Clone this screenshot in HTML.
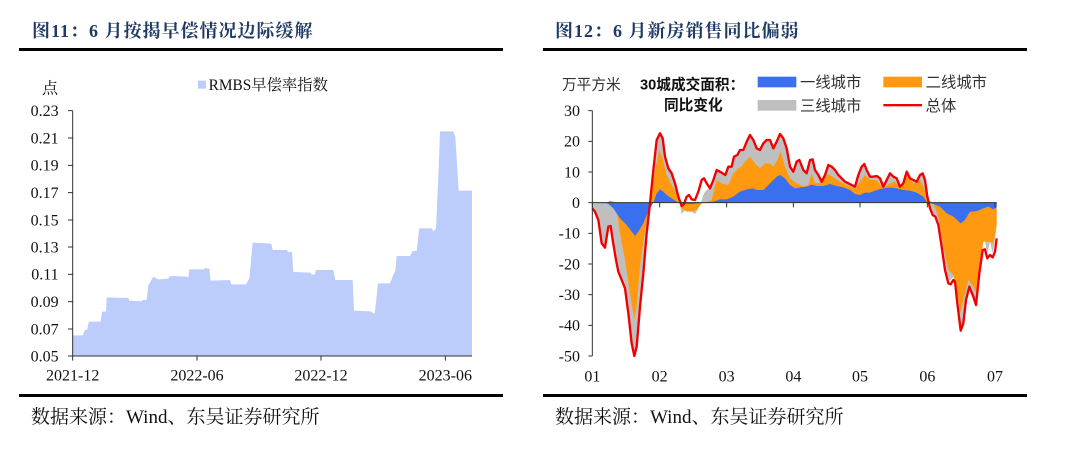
<!DOCTYPE html>
<html><head><meta charset="utf-8"><style>
body{margin:0;width:1080px;height:449px;background:#fff;position:relative;overflow:hidden;font-family:"Liberation Serif","Noto Serif CJK SC",serif}
.t{position:absolute;top:17px;font-size:18px;font-weight:bold;color:#1f3a64;letter-spacing:1px}
.ln{position:absolute;height:3px;background:#000}
.src{position:absolute;top:402px;font-size:19px;color:#111}
svg{position:absolute;top:60px}
</style></head><body>
<div class="t" style="left:32px">图11：6 月按揭早偿情况边际缓解</div>
<div class="t" style="left:555px">图12：6 月新房销售同比偏弱</div>
<div class="ln" style="left:19px;width:484px;top:48px"></div>
<div class="ln" style="left:543px;width:484px;top:48px"></div>
<div class="ln" style="left:19px;width:484px;top:394px"></div>
<div class="ln" style="left:543px;width:484px;top:394px"></div>
<div class="src" style="left:31px">数据来源：Wind、东吴证券研究所</div>
<div class="src" style="left:555px">数据来源：Wind、东吴证券研究所</div>

<svg width="540" height="330" viewBox="0 0 1620 990" style="left:0" font-family="Liberation Serif, Noto Serif CJK SC, serif">
<path fill="#bccdfb" d="M218,888 L218,826 L248,826 L255,810 L262,808 L266,785 L302,785 L306,755 L318,755 L320,712 L380,714 L384,712 L388,722 L425,724 L428,720 L440,720 L445,676 L460,650 L470,656 L475,658 L505,656 L510,648 L560,650 L565,653 L568,628 L612,628 L616,624 L628,626 L632,662 L690,660 L694,673 L738,673 L748,655 L758,548 L808,550 L814,552 L818,570 L860,570 L865,576 L876,576 L880,636 L930,638 L936,644 L944,644 L948,630 L1000,630 L1006,660 L1058,660 L1062,752 L1112,754 L1124,762 L1128,728 L1134,670 L1170,670 L1178,650 L1186,632 L1190,588 L1230,588 L1238,573 L1250,573 L1256,520 L1258,505 L1296,505 L1300,515 L1308,505 L1316,325 L1320,214 L1360,214 L1366,230 L1376,392 L1416,392 L1416,888 Z"/>
<g stroke="#333" stroke-width="3" fill="none">
<path d="M218,152 V888 H1416"/>
<path d="M204,152H218M204,234H218M204,316H218M204,398H218M204,480H218M204,561H218M204,643H218M204,725H218M204,807H218M204,888H218"/>
<path d="M218,888V902M591,888V902M963,888V902M1336,888V902"/>
</g>
<g font-size="48" fill="#111" text-anchor="end">
<text x="176" y="168">0.23</text><text x="176" y="250">0.21</text><text x="176" y="332">0.19</text><text x="176" y="414">0.17</text><text x="176" y="496">0.15</text><text x="176" y="577">0.13</text><text x="176" y="659">0.11</text><text x="176" y="741">0.09</text><text x="176" y="823">0.07</text><text x="176" y="904">0.05</text>
<text x="174" y="100">点</text>
</g>
<g font-size="48" fill="#111" text-anchor="middle">
<text x="218" y="962">2021-12</text><text x="591" y="962">2022-06</text><text x="963" y="962">2022-12</text><text x="1336" y="962">2023-06</text>
</g>
<rect x="594" y="62" width="24" height="24" fill="#bccdfb"/>
<text x="626" y="90" font-size="46" fill="#111">RMBS早偿率指数</text>
</svg>

<svg width="540" height="330" viewBox="0 0 1620 990" style="left:540px" font-family="Liberation Serif, Noto Serif CJK SC, serif">
<path fill="#bfbfbf" d="M157,428 L157,445 L165,455 L175,480 L185,550 L195,563 L205,500 L212,498 L218,540 L228,600 L235,635 L245,660 L255,685 L265,760 L275,850 L283,888 L290,860 L300,740 L310,640 L320,520 L330,430 L340,330 L350,240 L360,220 L368,235 L375,290 L385,325 L395,340 L405,370 L415,410 L425,462 L432,455 L440,440 L447,445 L455,455 L465,462 L475,445 L485,420 L492,400 L500,390 L510,385 L520,360 L530,330 L540,335 L548,340 L556,345 L565,320 L575,320 L582,290 L592,285 L600,270 L610,270 L620,245 L630,225 L640,240 L650,265 L660,270 L670,250 L680,240 L690,240 L700,265 L710,245 L720,222 L730,235 L740,265 L750,320 L760,335 L770,305 L778,300 L790,330 L800,340 L810,300 L818,298 L825,330 L835,345 L845,365 L855,345 L865,315 L875,320 L885,330 L895,345 L905,355 L915,365 L925,370 L935,375 L945,380 L955,345 L965,320 L973,312 L980,330 L990,350 L1000,350 L1010,348 L1020,355 L1030,380 L1040,360 L1050,340 L1060,350 L1070,355 L1080,380 L1090,370 L1100,330 L1110,355 L1120,360 L1130,365 L1140,345 L1148,340 L1155,360 L1162,410 L1170,445 L1178,465 L1186,470 L1195,495 L1205,560 L1215,630 L1225,660 L1232,660 L1240,650 L1245,665 L1252,730 L1262,812 L1270,790 L1278,720 L1288,680 L1300,710 L1308,735 L1318,640 L1328,545 L1335,545 L1342,580 L1350,545 L1358,580 L1365,540 L1370,495 L1370,428 Z"/>
<path fill="#ff9a10" d="M157,428 L157,425 L175,430 L195,432 L210,422 L220,425 L230,450 L240,520 L255,600 L270,700 L283,780 L290,740 L300,620 L315,510 L330,430 L345,330 L358,270 L368,295 L380,345 L395,375 L410,400 L425,445 L440,455 L455,455 L470,450 L485,430 L500,425 L515,420 L530,360 L545,370 L565,375 L580,340 L595,325 L605,320 L615,305 L630,290 L645,310 L660,325 L675,310 L690,310 L700,320 L712,300 L722,275 L735,320 L750,355 L770,370 L790,380 L805,375 L815,340 L825,370 L840,368 L855,340 L870,345 L885,355 L900,365 L920,375 L945,385 L960,365 L975,345 L990,360 L1010,360 L1030,385 L1050,370 L1065,365 L1080,380 L1100,345 L1120,370 L1140,360 L1155,390 L1165,420 L1180,430 L1195,470 L1210,560 L1225,630 L1240,645 L1250,690 L1262,760 L1270,720 L1285,660 L1300,680 L1310,700 L1320,620 L1330,545 L1345,545 L1360,550 L1370,495 L1370,428 Z"/>
<path fill="#3a6ff0" d="M157,428 L195,428 L205,432 L220,445 L240,475 L260,495 L275,515 L285,528 L295,515 L310,490 L325,455 L340,428 L350,400 L360,388 L370,395 L380,405 L395,415 L410,425 L425,432 L440,432 L460,432 L480,430 L500,428 L520,425 L540,418 L560,418 L580,410 L600,395 L620,388 L640,385 L650,390 L670,390 L690,370 L710,350 L720,345 L735,355 L750,375 L765,385 L780,382 L800,380 L815,374 L830,378 L850,378 L870,372 L890,378 L910,382 L930,390 L945,402 L960,405 L975,398 L990,398 L1010,390 L1030,385 L1050,382 L1070,385 L1090,390 L1110,392 L1130,398 L1150,410 L1162,428 L1180,432 L1200,440 L1220,460 L1240,470 L1262,490 L1275,480 L1290,455 L1300,455 L1315,452 L1330,445 L1345,440 L1360,448 L1370,442 L1370,428 Z"/>
<path fill="none" stroke="#f00000" stroke-width="7" stroke-linejoin="round" d="M157,445 L165,455 L175,480 L185,550 L195,563 L205,500 L212,498 L218,540 L228,600 L235,635 L245,660 L255,685 L265,760 L275,850 L283,888 L290,860 L300,740 L310,640 L320,520 L330,430 L340,330 L350,240 L360,220 L368,235 L375,290 L385,325 L395,340 L405,370 L415,410 L425,438 L432,432 L440,410 L447,405 L455,418 L465,420 L475,395 L485,360 L492,355 L500,370 L510,385 L520,360 L530,330 L540,335 L548,340 L556,345 L565,320 L575,320 L582,290 L592,285 L600,270 L610,270 L620,245 L630,225 L640,240 L650,265 L660,270 L670,250 L680,240 L690,240 L700,265 L710,245 L720,222 L730,235 L740,265 L750,320 L760,335 L770,305 L778,300 L790,330 L800,340 L810,300 L818,298 L825,330 L835,345 L845,365 L855,345 L865,315 L875,320 L885,330 L895,345 L905,355 L915,365 L925,370 L935,375 L945,380 L955,345 L965,320 L973,312 L980,330 L990,350 L1000,350 L1010,348 L1020,355 L1030,380 L1040,360 L1050,340 L1060,350 L1070,355 L1080,380 L1090,370 L1100,335 L1110,355 L1120,360 L1130,365 L1140,345 L1148,340 L1155,360 L1162,410 L1170,445 L1178,465 L1186,470 L1195,495 L1205,560 L1215,630 L1225,670 L1232,673 L1240,660 L1245,665 L1252,730 L1262,812 L1270,790 L1278,720 L1288,680 L1300,710 L1308,735 L1318,640 L1328,570 L1335,568 L1342,595 L1350,585 L1358,592 L1365,575 L1370,535"/>
<g stroke="#333" stroke-width="3" fill="none">
<path d="M157,152 V888"/>
<path d="M145,152H157M145,244H157M145,336H157M145,428H157M145,520H157M145,612H157M145,704H157M145,796H157M145,888H157"/>
<path d="M157,428H1370"/>
<path d="M157,428V442M359,428V442M560,428V442M760,428V442M960,428V442M1162,428V442M1365,428V442"/>
</g>
<g font-size="48" fill="#111" text-anchor="end">
<text x="120" y="168">30</text><text x="120" y="260">20</text><text x="120" y="352">10</text><text x="120" y="444">0</text><text x="120" y="536">-10</text><text x="120" y="628">-20</text><text x="120" y="720">-30</text><text x="120" y="812">-40</text><text x="120" y="904">-50</text>
</g>
<g font-size="48" fill="#111" text-anchor="middle">
<text x="157" y="964">01</text><text x="359" y="964">02</text><text x="560" y="964">03</text><text x="760" y="964">04</text><text x="960" y="964">05</text><text x="1162" y="964">06</text><text x="1365" y="964">07</text>
</g>
<text x="66" y="88" font-size="44" fill="#333" font-family="Liberation Sans, Noto Sans CJK SC, sans-serif">万平方米</text>
<text x="300" y="88" font-size="44" font-weight="bold" fill="#111" font-family="Liberation Sans, Noto Sans CJK SC, sans-serif">30城成交面积：</text>
<text x="372" y="150" font-size="44" font-weight="bold" fill="#111" font-family="Liberation Sans, Noto Sans CJK SC, sans-serif">同比变化</text>
<rect x="653" y="50" width="116" height="32" fill="#3a6ff0"/>
<rect x="1030" y="50" width="116" height="32" fill="#ff9a10"/>
<rect x="653" y="120" width="116" height="32" fill="#bfbfbf"/>
<rect x="1030" y="132" width="116" height="7" fill="#f00000"/>
<g font-size="46" fill="#333" font-family="Liberation Sans, Noto Sans CJK SC, sans-serif">
<text x="780" y="83">一线城市</text><text x="1157" y="83">二线城市</text>
<text x="780" y="153">三线城市</text><text x="1157" y="153">总体</text>
</g>
</svg>
</body></html>
